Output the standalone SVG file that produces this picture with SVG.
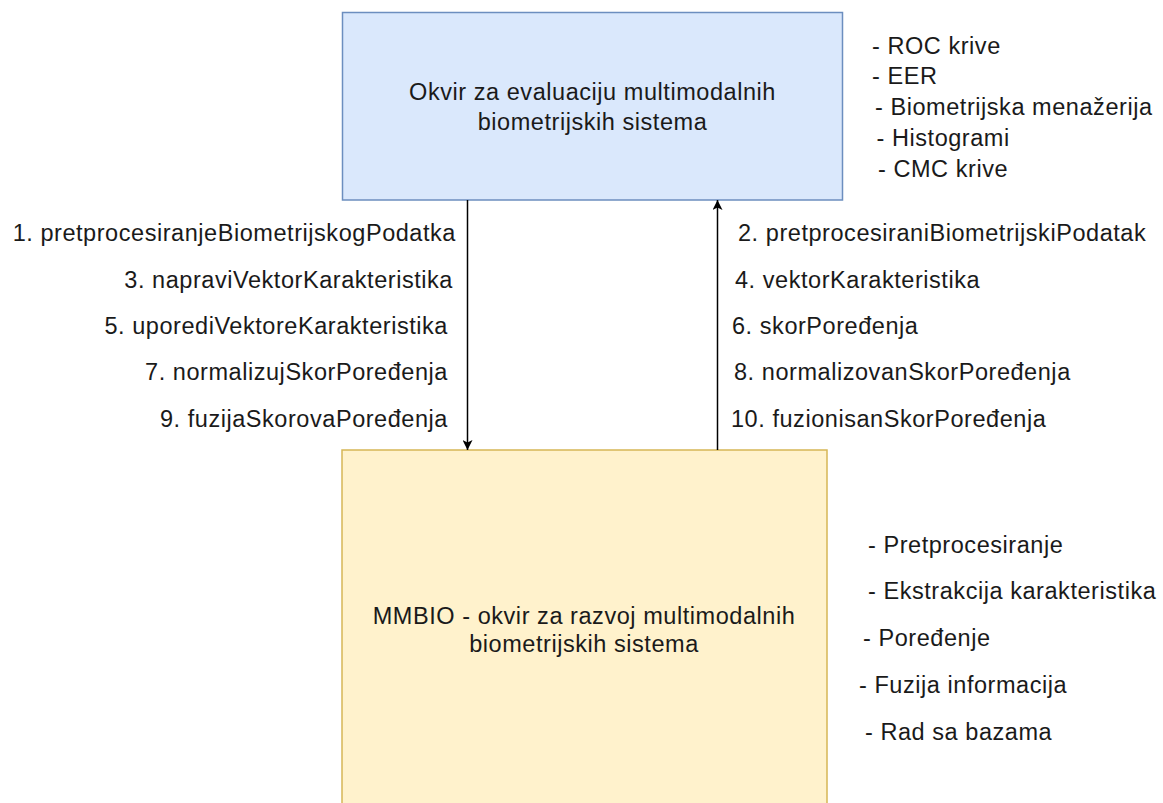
<svg xmlns="http://www.w3.org/2000/svg" width="1163" height="803" viewBox="0 0 1163 803">
<defs>
<style>
text{font-family:"Liberation Sans",Arial,sans-serif;font-size:23.5px;letter-spacing:0.55px;fill:#1a1a1a}
.c{text-anchor:middle}
.e{text-anchor:end}
.edge{stroke:#000;stroke-width:1.5;fill:none}
</style>
<marker id="ah" viewBox="0 0 10 10" refX="10" refY="5" markerWidth="10" markerHeight="10" markerUnits="userSpaceOnUse" orient="auto">
<path d="M0,0 L10,5 L0,10 L2.5,5 Z" fill="#000"/>
</marker>
</defs>
<rect width="1163" height="803" fill="#fff"/>
<g id="eval-node">
<rect x="342.5" y="12.5" width="500" height="187.5" fill="#dae8fc" stroke="#6c8ebf" stroke-width="1.5"/>
<text class="c" x="592.5" y="100">Okvir za evaluaciju multimodalnih</text>
<text class="c" x="592.5" y="130">biometrijskih sistema</text>
</g>
<g id="mmbio-node">
<rect x="342" y="450" width="485" height="370" fill="#fff2cc" stroke="#d6b656" stroke-width="1.5"/>
<text class="c" x="584" y="624">MMBIO - okvir za razvoj multimodalnih</text>
<text class="c" x="584" y="652">biometrijskih sistema</text>
</g>
<g id="eval-features">
<text x="872" y="54">- ROC krive</text>
<text x="872" y="84">- EER</text>
<text x="875" y="115">- Biometrijska menažerija</text>
<text x="876.5" y="146">- Histogrami</text>
<text x="878" y="177">- CMC krive</text>
</g>
<g id="mmbio-features">
<text x="868" y="553">- Pretprocesiranje</text>
<text x="868" y="599">- Ekstrakcija karakteristika</text>
<text x="863" y="646">- Poređenje</text>
<text x="859" y="693">- Fuzija informacija</text>
<text x="865" y="740">- Rad sa bazama</text>
</g>
<g id="connectors">
<line class="edge" x1="467.5" y1="200" x2="467.5" y2="450" marker-end="url(#ah)"/>
<line class="edge" x1="717.5" y1="450" x2="717.5" y2="200" marker-end="url(#ah)"/>
<g id="request-labels">
<text class="e" x="456" y="241">1. pretprocesiranjeBiometrijskogPodatka</text>
<text class="e" x="453" y="288">3. napraviVektorKarakteristika</text>
<text class="e" x="448" y="334">5. uporediVektoreKarakteristika</text>
<text class="e" x="448" y="380">7. normalizujSkorPoređenja</text>
<text class="e" x="448" y="427">9. fuzijaSkorovaPoređenja</text>
</g>
<g id="response-labels">
<text x="738" y="241">2. pretprocesiraniBiometrijskiPodatak</text>
<text x="735" y="288">4. vektorKarakteristika</text>
<text x="732" y="334">6. skorPoređenja</text>
<text x="734" y="380">8. normalizovanSkorPoređenja</text>
<text x="731" y="427">10. fuzionisanSkorPoređenja</text>
</g>
</g>
</svg>
